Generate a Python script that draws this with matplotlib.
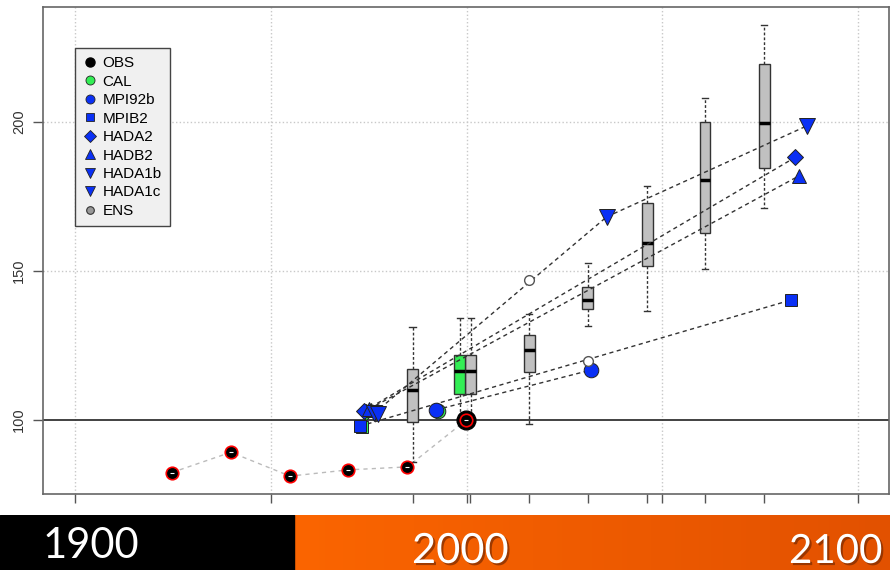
import numpy as np
import matplotlib
matplotlib.use("Agg")
import matplotlib.pyplot as plt
from matplotlib.lines import Line2D
from matplotlib.patches import Rectangle
from matplotlib.colors import LinearSegmentedColormap
from matplotlib import patheffects as pe

plt.rcParams['font.family'] = ['Liberation Sans', 'DejaVu Sans']

# observed series
obs_years = [1924.7, 1939.8, 1954.9, 1969.8, 1984.9, 1999.9]
obs_vals = [82.4, 89.2, 81.2, 83.3, 84.3, 100.0]

# ensemble boxes (q1, median, q3, whiskers)
box_pos = [1986.2, 2001.1, 2016.0, 2031.0, 2046.1, 2060.9, 2076.0]
box_q1 = [99.2, 108.7, 116.2, 137.2, 151.7, 162.7, 184.5]
box_med = [110.1, 116.4, 123.5, 140.3, 159.5, 180.5, 199.8]
box_q3 = [117.3, 121.8, 128.5, 144.5, 172.7, 199.9, 219.4]
box_lo = [86.0, 99.0, 98.7, 131.6, 136.7, 150.8, 171.1]
box_hi = [131.1, 134.2, 135.5, 152.6, 178.6, 208.1, 232.4]

# calibration box
cal_pos = [1998.3]
cal_q1 = [108.7]
cal_med = [116.4]
cal_q3 = [121.8]
cal_lo = [100.5]
cal_hi = [134.2]

# scenarios
mpi92b_years = [1992.1, 2031.8]
mpi92b_vals = [103.4, 116.8]
mpib2_years = [1972.8, 2082.9]
mpib2_vals = [98.0, 140.3]
hada2_years = [1973.8, 2084.0]
hada2_vals = [103.0, 188.2]
hadb2_years = [1975.1, 2085.0]
hadb2_vals = [103.7, 182.0]
hada1b_years = [1976.4, 2035.8]
hada1b_vals = [102.3, 168.2]
hada1c_years = [1977.4, 2035.8, 2086.9]
hada1c_vals = [102.0, 168.2, 198.7]
ens_years = [2016.0, 2030.9]
ens_vals = [147.0, 119.9]

tick_years = [1900, 1950, 1986.2, 2000, 2000.8, 2016, 2031, 2046.1, 2050, 2060.9, 2076, 2100]
bar_labels = ['1900', '2000', '2100']

BLUE = '#0A30F5'
GREEN = '#33EE55'

fig = plt.figure(figsize=(8.9, 5.7), dpi=100)
ax = fig.add_axes([43/890, 76/570, 846/890, 487/570])
ax.set_xlim(1891.8, 2107.9)
ax.set_ylim(75.2, 238.6)

# grid + reference line
for gx in [1900, 1950, 2000, 2050, 2100]:
    ax.axvline(gx, color='#C8C8C8', ls=':', lw=1, zorder=0)
for gy in [150, 200]:
    ax.axhline(gy, color='#C8C8C8', ls=':', lw=1, zorder=0)
ax.axhline(100, color='#333333', lw=1.3, zorder=1)

# observations line
ax.plot(obs_years, obs_vals, color='#BBBBBB', ls=(0, (3, 3)), lw=1, zorder=2)

# boxes
def stats(q1, med, q3, lo, hi):
    return [dict(q1=a, med=m, q3=b, whislo=l, whishi=h, fliers=[])
            for a, m, b, l, h in zip(q1, med, q3, lo, hi)]

common = dict(widths=2.8, patch_artist=True, showfliers=False, capwidths=1.6,
              manage_ticks=False,
              medianprops=dict(color='black', linewidth=2.5),
              whiskerprops=dict(color='#333333', linestyle=(0, (2, 1.5)), linewidth=1),
              capprops=dict(color='#333333', linewidth=1))
b = ax.bxp(stats(box_q1, box_med, box_q3, box_lo, box_hi), positions=box_pos,
           boxprops=dict(facecolor='#C0C0C0', edgecolor='#333333', linewidth=1), **common)
c = ax.bxp(stats(cal_q1, cal_med, cal_q3, cal_lo, cal_hi), positions=cal_pos,
           boxprops=dict(facecolor=GREEN, edgecolor='#333333', linewidth=1), **common)
for grp in (b, c):
    for k in grp:
        for art in grp[k]:
            art.set_zorder(3)

# scenario dashed lines
dash = dict(color='#333333', ls=(0, (3, 2.5)), lw=1, zorder=4)
ax.plot(mpi92b_years, mpi92b_vals, **dash)
ax.plot(mpib2_years, mpib2_vals, **dash)
ax.plot(hada2_years, hada2_vals, **dash)
ax.plot(hadb2_years, hadb2_vals, **dash)
ax.plot(hada1b_years, hada1b_vals, **dash)
ax.plot(hada1c_years[1:], hada1c_vals[1:], **dash)

# calibration shadows behind start markers
mk = dict(ls='none', mec='#222222', mew=0.7, zorder=5)
for xs, ys, m, s in [(mpib2_years, mpib2_vals, 's', 9), (hada2_years, hada2_vals, 'D', 8.5),
                     (hadb2_years, hadb2_vals, '^', 10), (mpi92b_years, mpi92b_vals, 'o', 10.5)]:
    ax.plot([xs[0] + 0.5], [ys[0] - 0.4], marker=m, ms=s, mfc=GREEN, **mk)

# observations markers
ax.plot([obs_years[-1]], [obs_vals[-1]], 'o', ms=13.5, mfc='black', mec='black', zorder=6)
ax.plot(obs_years, obs_vals, 'o', ms=9, mfc='black', mec='red', mew=1.2, zorder=7)
ax.plot(obs_years, obs_vals, '_', ms=3, color='white', mew=0.8, zorder=8)

# scenario markers
ax.plot(mpib2_years, mpib2_vals, marker='s', ms=9, mfc=BLUE, **mk)
ax.plot(hada2_years, hada2_vals, marker='D', ms=8.5, mfc=BLUE, **mk)
ax.plot(hadb2_years, hadb2_vals, marker='^', ms=10, mfc=BLUE, **mk)
ax.plot(hada1b_years, hada1b_vals, marker='v', ms=12, mfc=BLUE, **mk)
ax.plot([hada1c_years[0], hada1c_years[2]], [hada1c_vals[0], hada1c_vals[2]],
        marker='v', ms=12, mfc=BLUE, **mk)
ax.plot(mpi92b_years, mpi92b_vals, marker='o', ms=10.5, mfc=BLUE, **mk)
ax.plot(ens_years, ens_vals, 'o', ms=7, mfc='white', mec='#555555', mew=1, zorder=5)

# axes styling
for s in ax.spines.values():
    s.set_color('#666666')
    s.set_linewidth(1.2)
ax.set_yticks([100, 150, 200])
ax.set_yticklabels(['100', '150', '200'], rotation=90, va='center', fontsize=10.5, color='#333333')
ax.tick_params(axis='y', length=7.2, width=1, color='#555555', pad=5)
ax.set_xticks(tick_years)
ax.set_xticklabels([])
ax.tick_params(axis='x', length=6.5, width=1, color='#555555')

# legend
handles = [
    Line2D([], [], ls='none', marker='o', ms=6.5, mfc='black', mec='black'),
    Line2D([], [], ls='none', marker='o', ms=6.5, mfc=GREEN, mec='#222222', mew=0.6),
    Line2D([], [], ls='none', marker='o', ms=6.5, mfc=BLUE, mec='#222222', mew=0.6),
    Line2D([], [], ls='none', marker='s', ms=6, mfc=BLUE, mec='#222222', mew=0.6),
    Line2D([], [], ls='none', marker='D', ms=6, mfc=BLUE, mec='#222222', mew=0.6),
    Line2D([], [], ls='none', marker='^', ms=7, mfc=BLUE, mec='#222222', mew=0.6),
    Line2D([], [], ls='none', marker='v', ms=7, mfc=BLUE, mec='#222222', mew=0.6),
    Line2D([], [], ls='none', marker='v', ms=7, mfc=BLUE, mec='#222222', mew=0.6),
    Line2D([], [], ls='none', marker='o', ms=5.5, mfc='#999999', mec='#333333', mew=0.8),
]
labels = ['OBS', 'CAL', 'MPI92b', 'MPIB2', 'HADA2', 'HADB2', 'HADA1b', 'HADA1c', 'ENS']
leg = ax.legend(handles, labels, loc='upper left', bbox_to_anchor=(32/846, (494-48)/487),
                fontsize=11, frameon=True, fancybox=False, framealpha=1,
                facecolor='#F0F0F0', edgecolor='#444444', borderpad=0.55,
                handlelength=0.9, handletextpad=0.35, labelspacing=0.29,
                borderaxespad=0)
leg.get_frame().set_linewidth(1)
leg.set_zorder(10)

# bottom banner
bar = fig.add_axes([0, 0, 1, 55/570])
bar.add_patch(Rectangle((0, 0), 294, 55, color='black'))
grad = np.linspace(0, 1, 256).reshape(1, -1)
cmap = LinearSegmentedColormap.from_list('orng', ['#FB6500', '#E25100'])
bar.imshow(grad, extent=[294, 890, 0, 55], aspect='auto', cmap=cmap)
bar.set_xlim(0, 890)
bar.set_ylim(0, 55)
bar.axis('off')
shadow = [pe.withSimplePatchShadow(offset=(1.5, -1.5), shadow_rgbFace='#7a2a00', alpha=0.7)]
bar.text(43, 12, bar_labels[0], color='white', fontsize=30, family='Lato', ha='left', va='baseline')
bar.text(412, 7, bar_labels[1], color='white', fontsize=30, family='Lato', ha='left', va='baseline',
         path_effects=shadow)
bar.text(789, 7, bar_labels[2], color='white', fontsize=29, family='Lato', ha='left', va='baseline',
         path_effects=shadow)

fig.savefig('out.png', dpi=100)
